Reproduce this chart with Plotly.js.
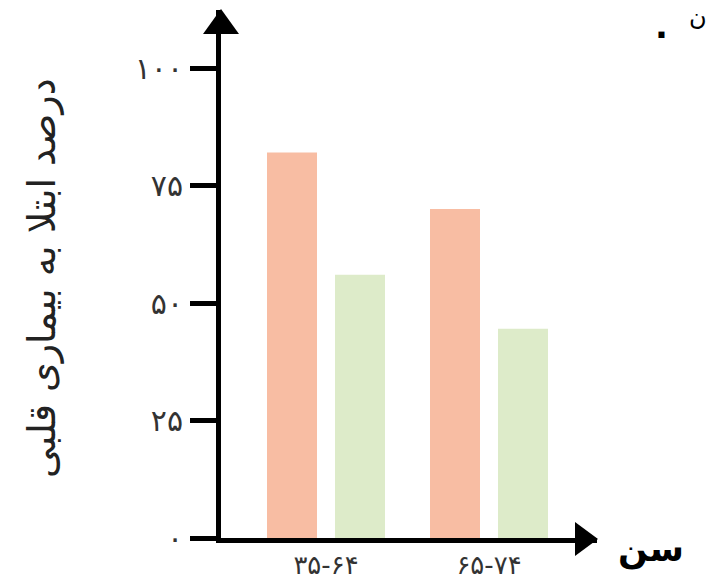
<!DOCTYPE html>
<html>
<head>
<meta charset="utf-8">
<script src="https://cdn.plot.ly/plotly-3.0.1.min.js"></script>
<style>html,body{margin:0;padding:0;background:#fff;}#chart{width:711px;height:585px;}</style>
</head>
<body>
<div id="chart"></div>
<script>
// Data
const categories = ["۳۵-۶۴", "۶۵-۷۴"];
const seriesA = [82, 70];   // salmon bars
const seriesB = [56, 44.5]; // green bars
const yTickVals = [0, 25, 50, 75, 100];
const yTickText = ["۰", "۲۵", "۵۰", "۷۵", "۱۰۰"];
const yTitle = "درصد ابتلا به بیماری قلبی";
const xTitle = "سن";

// Pixel geometry of the plot area
const W = 711, H = 585;
const L = 221, R = 597, T = 10, B = 538;
const pw = R - L, ph = B - T;
const px = v => (v - L) / pw;
const py = v => (B - v) / ph;
const catPx = 163;

const traces = [
  {type: "bar", x: categories, y: seriesA, marker: {color: "#F8BDA3"},
   width: 50 / catPx, offset: (267 - 326) / catPx, hoverinfo: "none"},
  {type: "bar", x: categories, y: seriesB, marker: {color: "#DDEBC9"},
   width: 50 / catPx, offset: (335 - 326) / catPx, hoverinfo: "none"}
];

const layout = {
  width: W, height: H,
  margin: {l: L, r: W - R, t: T, b: H - B, pad: 0},
  paper_bgcolor: "#fff", plot_bgcolor: "#fff",
  showlegend: false,
  xaxis: {
    type: "category",
    range: [-(326 - L) / catPx, -(326 - L) / catPx + pw / catPx],
    showline: true, linecolor: "#000", linewidth: 5,
    ticks: "", showgrid: false, zeroline: false,
    tickfont: {family: "DejaVu Sans", size: 26, color: "#333"},
    ticklabelstandoff: 0, fixedrange: true
  },
  yaxis: {
    range: [0, (B - T) / 4.7],
    tickvals: yTickVals, ticktext: yTickText,
    showline: true, linecolor: "#000", linewidth: 5,
    ticks: "outside", ticklen: 26, tickwidth: 5, tickcolor: "#000",
    showgrid: false, zeroline: false,
    tickfont: {family: "DejaVu Sans", size: 30, color: "#333"},
    ticklabelstandoff: 1, fixedrange: true
  },
  shapes: [
    // y-axis arrowhead
    {type: "path", xref: "paper", yref: "paper",
     path: `M ${px(203)} ${py(34)} L ${px(221)} ${py(9)} L ${px(239)} ${py(34)} Z`,
     fillcolor: "#000", line: {width: 0}},
    // x-axis arrowhead
    {type: "path", xref: "paper", yref: "paper",
     path: `M ${px(575)} ${py(522)} L ${px(598)} ${py(539)} L ${px(575)} ${py(556)} Z`,
     fillcolor: "#000", line: {width: 0}}
  ],
  annotations: [
    {text: yTitle, xref: "paper", yref: "paper", x: px(42), y: py(278),
     textangle: -90, showarrow: false, xanchor: "center", yanchor: "middle",
     font: {family: "DejaVu Sans", size: 38, color: "#222"}},
    {text: "<b>" + xTitle + "</b>", xref: "paper", yref: "paper", x: px(651), y: py(549),
     showarrow: false, xanchor: "center", yanchor: "middle",
     font: {family: "DejaVu Sans", size: 35, color: "#000"}},
    {text: "<b>.</b>", xref: "paper", yref: "paper", x: px(661), y: py(26),
     showarrow: false, xanchor: "center", yanchor: "middle",
     font: {family: "DejaVu Sans", size: 34, color: "#000"}},
    {text: "ن", xref: "paper", yref: "paper", x: px(709), y: py(1),
     showarrow: false, xanchor: "right", yanchor: "top",
     font: {family: "DejaVu Sans", size: 24, color: "#000"}}
  ]
};

Plotly.newPlot("chart", traces, layout, {displayModeBar: false, staticPlot: true});
</script>
</body>
</html>
